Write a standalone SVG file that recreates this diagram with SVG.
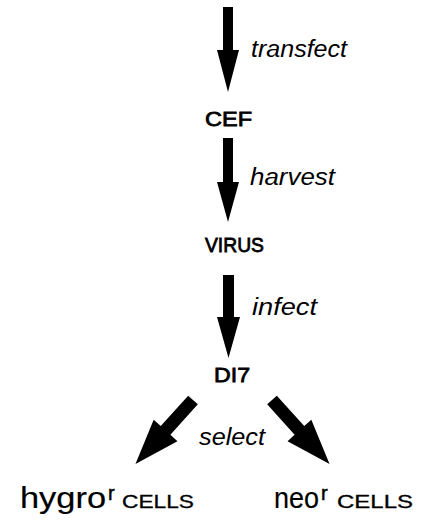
<svg xmlns="http://www.w3.org/2000/svg" width="423" height="521" viewBox="0 0 423 521">
<style>
.arr{fill:#000}
.lab{font-family:"Liberation Sans","DejaVu Sans",sans-serif;font-style:italic;font-size:23px;fill:#000}
.node{font-family:"Liberation Sans","DejaVu Sans",sans-serif;font-size:21px;fill:#000;stroke:#000;stroke-width:0.8}
.big{font-family:"Liberation Sans","DejaVu Sans",sans-serif;font-size:29px;fill:#000;stroke:#000;stroke-width:0.2}
.sc{font-family:"Liberation Sans","DejaVu Sans",sans-serif;font-size:18px;fill:#000;stroke:#000;stroke-width:0.3}
.sup{font-family:"Liberation Sans","DejaVu Sans",sans-serif;font-size:20px;fill:#000;stroke:#000;stroke-width:0.5}
</style>
<rect width="423" height="521" fill="#fff"/>
<g id="connectors">
<polygon class="arr" points="223,7 233,7 233,50 239,50 228,92 217,50 223,50"/>
<polygon class="arr" points="223,138 233,138 233,182 239,182 228,222 217,182 223,182"/>
<polygon class="arr" points="223,275 234,275 234,317 240,317 228.5,358 217,317 223,317"/>
<polygon class="arr" transform="translate(193,400) rotate(42)" points="-6.5,0 6.5,0 6.5,41 16,41 0,86 -16,41 -6.5,41"/>
<polygon class="arr" transform="translate(272,400) rotate(-42)" points="-6.5,0 6.5,0 6.5,41 16,41 0,86 -16,41 -6.5,41"/>
<text class="lab" x="251" y="57" textLength="96" lengthAdjust="spacingAndGlyphs">transfect</text>
<text class="lab" x="250" y="185" textLength="85" lengthAdjust="spacingAndGlyphs">harvest</text>
<text class="lab" x="252" y="315" textLength="65" lengthAdjust="spacingAndGlyphs">infect</text>
<text class="lab" x="199" y="445" textLength="66" lengthAdjust="spacingAndGlyphs">select</text>
</g>
<g id="node-cef"><text class="node" x="205" y="126" textLength="47" lengthAdjust="spacingAndGlyphs">CEF</text></g>
<g id="node-virus"><text class="node" x="205" y="252" textLength="59" lengthAdjust="spacingAndGlyphs">VIRUS</text></g>
<g id="node-di7"><text class="node" x="214" y="382" textLength="36" lengthAdjust="spacingAndGlyphs">DI7</text></g>
<g id="node-hygro"><text class="big" x="20" y="508" textLength="86" lengthAdjust="spacingAndGlyphs">hygro</text><text class="sup" x="108" y="500">r</text><text class="sc" x="122" y="508" textLength="72" lengthAdjust="spacingAndGlyphs">CELLS</text></g>
<g id="node-neo"><text class="big" x="274" y="508" textLength="45" lengthAdjust="spacingAndGlyphs">neo</text><text class="sup" x="321" y="500">r</text><text class="sc" x="337" y="508" textLength="76" lengthAdjust="spacingAndGlyphs">CELLS</text></g>
</svg>
